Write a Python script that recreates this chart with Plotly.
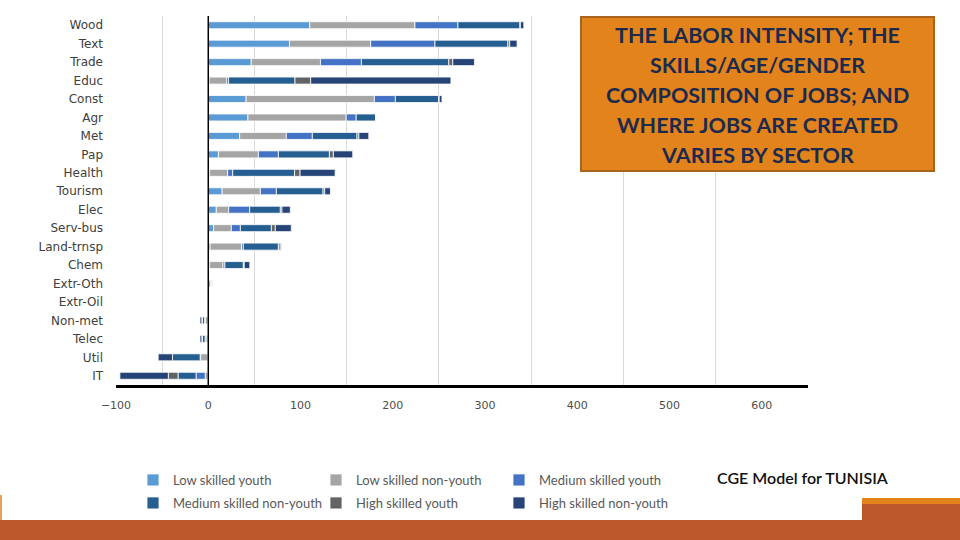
import plotly.graph_objects as go

sectors = ["Wood", "Text", "Trade", "Educ", "Const", "Agr", "Met", "Pap", "Health", "Tourism",
           "Elec", "Serv-bus", "Land-trnsp", "Chem", "Extr-Oth", "Extr-Oil", "Non-met", "Telec", "Util", "IT"]

low_skilled_youth = [110, 88, 46.6, 1, 41, 43, 34, 11, 1.5, 15,
                     8.7, 5.8, 2, 1.5, 0.5, 0, -0.5, -0.5, 0, -0.5]
low_skilled_nonyouth = [114, 88, 75, 19, 139, 106.5, 50.6, 43.3, 19.5, 41.5,
                        13.4, 19.2, 34, 14.5, 2, 0, -2.5, -2, -8.3, -2.8]
medium_skilled_youth = [46.6, 69.7, 44.4, 2, 22.8, 10.8, 28.2, 21.7, 5.5, 17.3,
                        22.8, 9.8, 2, 2, 0.5, 0, -1, -1, -0.5, -10]
medium_skilled_nonyouth = [67.2, 79, 94.7, 72, 47, 21.3, 48.4, 55.3, 67, 50.6,
                           33.2, 33.6, 38, 20, 1, 0, -2.5, -3, -30, -19.5]
high_skilled_youth = [0.5, 2, 4.3, 17, 0.5, 0, 2, 4.3, 6, 1.8,
                      1.8, 4.3, 2, 1, 0, 0, -0.5, -0.5, 0, -10.5]
high_skilled_nonyouth = [3.7, 8, 23.5, 152, 3, 0, 10.8, 21, 38, 6.2,
                         9, 17.3, 1, 6, 0.5, 0, -2, -2, -15.5, -52.5]

series_names = ["Low skilled youth", "Low skilled non-youth", "Medium skilled youth",
                "Medium skilled non-youth", "High skilled youth", "High skilled non-youth"]
series_values = [low_skilled_youth, low_skilled_nonyouth, medium_skilled_youth,
                 medium_skilled_nonyouth, high_skilled_youth, high_skilled_nonyouth]
series_colors = ["#5B9BD5", "#A5A5A5", "#4472C4", "#255E91", "#636363", "#264478"]
series_legend = ["legend", "legend", "legend", "legend2", "legend2", "legend2"]

x_ticks = [-100, 0, 100, 200, 300, 400, 500, 600]

title_lines = ["THE LABOR INTENSITY; THE", "SKILLS/AGE/GENDER", "COMPOSITION OF JOBS; AND",
               "WHERE JOBS ARE CREATED", "VARIES BY SECTOR"]

fig = go.Figure()
for name, vals, col, lg in zip(series_names, series_values, series_colors, series_legend):
    fig.add_trace(go.Bar(
        y=sectors, x=vals, name=name, orientation="h",
        marker=dict(color=col, line=dict(color="white", width=0.8)),
        legend=lg,
    ))

# plot area geometry (px) for paper conversions
L, R, T, B = 116, 808, 16, 385
W, H = R - L, B - T


def px(xp):
    return (xp - L) / W


def py(yp):
    return (B - yp) / H


legend_font = dict(family="Lato", size=13, color="#595959")
fig.update_layout(
    width=960, height=540,
    margin=dict(l=L, r=960 - R, t=T, b=540 - B, autoexpand=False),
    paper_bgcolor="white", plot_bgcolor="white",
    barmode="relative", bargap=0.62,
    showlegend=True,
    legend=dict(orientation="h", x=px(133), y=py(465), xanchor="left", yanchor="top",
                font=legend_font, entrywidth=138, entrywidthmode="pixels",
                bgcolor="rgba(0,0,0,0)", tracegroupgap=0, itemwidth=30),
    legend2=dict(orientation="h", x=px(133), y=py(488), xanchor="left", yanchor="top",
                 font=legend_font, entrywidth=138, entrywidthmode="pixels",
                 bgcolor="rgba(0,0,0,0)", tracegroupgap=0, itemwidth=30),
    xaxis=dict(range=[-100, 650], tickvals=x_ticks, showgrid=False,
               minor=dict(tick0=-50, dtick=100, showgrid=True, gridcolor="#D9D9D9", gridwidth=1),
               zeroline=False,
               showline=True, linecolor="black", linewidth=2.5,
               tickfont=dict(family="DejaVu Sans", size=11, color="#4D4D4D"),
               ticks="", ticklabelstandoff=8),
    yaxis=dict(categoryorder="array", categoryarray=sectors, autorange="reversed",
               showgrid=False, zeroline=False, showline=False, ticks="",
               tickfont=dict(family="DejaVu Sans", size=12, color="#404040"),
               ticklabelstandoff=12),
)

shapes = []
# zero line of the value axis, drawn above the bars
shapes.append(dict(type="line", xref="x", yref="paper", x0=0, x1=0, y0=0, y1=1,
                   line=dict(color="black", width=1.5), layer="above"))
# title box
shapes.append(dict(type="rect", xref="paper", yref="paper",
                   x0=px(581), x1=px(934), y0=py(171), y1=py(17),
                   fillcolor="#E3831B", line=dict(color="#A9641C", width=2), layer="above"))
# bottom decoration
shapes.append(dict(type="rect", xref="paper", yref="paper", x0=px(0), x1=px(960),
                   y0=py(540), y1=py(520), fillcolor="#BC582C", line=dict(width=0), layer="above"))
shapes.append(dict(type="rect", xref="paper", yref="paper", x0=px(862), x1=px(960),
                   y0=py(540), y1=py(504), fillcolor="#BC582C", line=dict(width=0), layer="above"))
shapes.append(dict(type="rect", xref="paper", yref="paper", x0=px(862), x1=px(960),
                   y0=py(504), y1=py(498), fillcolor="#E3831B", line=dict(width=0), layer="above"))
shapes.append(dict(type="rect", xref="paper", yref="paper", x0=px(0), x1=px(2),
                   y0=py(520), y1=py(495), fillcolor="#E3A35B", line=dict(width=0), layer="above"))
fig.update_layout(shapes=shapes)

annotations = []
for i, line in enumerate(title_lines):
    annotations.append(dict(text="<b>" + line + "</b>", xref="paper", yref="paper",
                            x=px(757.5), y=py(35 + 30 * i), xanchor="center", yanchor="middle",
                            showarrow=False,
                            font=dict(family="Lato", size=21.5, color="#1C2A4F")))
annotations.append(dict(text="CGE Model for TUNISIA", xref="paper", yref="paper",
                        x=px(803), y=py(477), xanchor="center", yanchor="middle", showarrow=False,
                        font=dict(family="Lato", size=16, color="#111111", weight=600)))
fig.update_layout(annotations=annotations)

fig.write_html("out.html", config={"displayModeBar": False},
               post_script="document.body.style.margin='0';")
